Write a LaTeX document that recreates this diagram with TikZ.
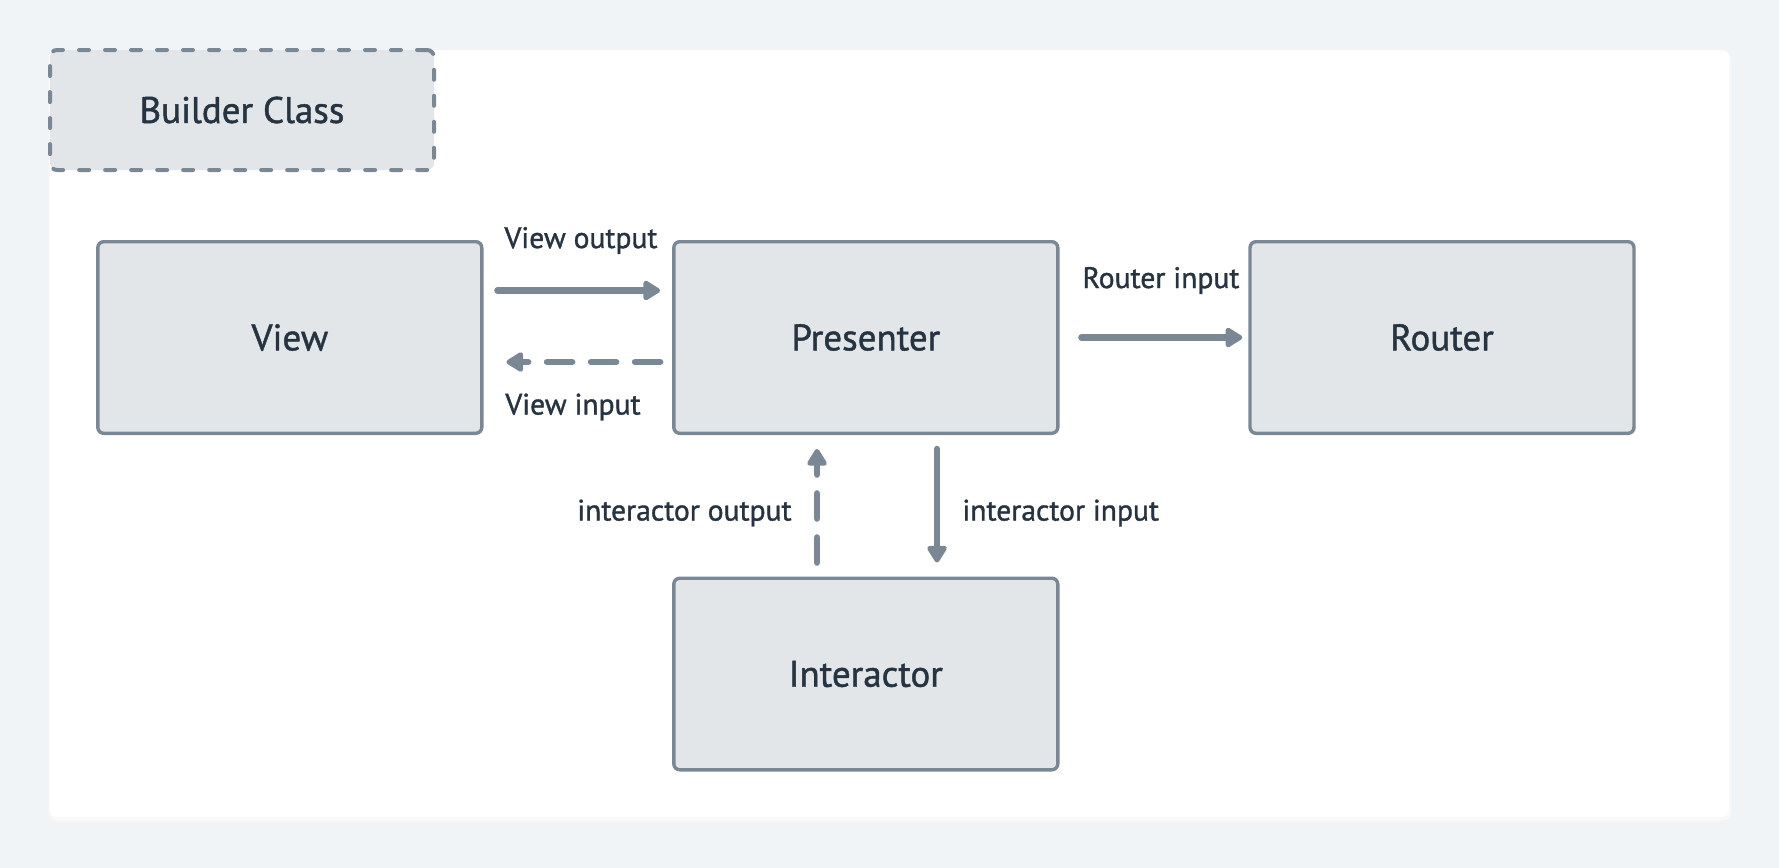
\documentclass[tikz,border=0pt]{standalone}
\usepackage{fontspec}
\setmainfont[FakeBold=1.2]{PT Sans}
\usetikzlibrary{arrows.meta}
\definecolor{bgc}{HTML}{F0F4F7}
\definecolor{boxfill}{HTML}{E2E6E9}
\definecolor{strokec}{HTML}{7A8896}
\definecolor{textc}{HTML}{263340}
\tikzset{
  boxnode/.style={draw=strokec, fill=boxfill, line width=1.7pt, rounded corners=3pt,
    minimum width=192pt, minimum height=95.8pt, text=textc, font=\fontsize{18.5pt}{22pt}\selectfont, inner sep=0pt},
  buildernode/.style={draw=strokec, fill=boxfill, line width=2pt, rounded corners=3.5pt,
    dash pattern=on 5pt off 8pt, line cap=round,
    minimum width=192pt, minimum height=60pt, text=textc, font=\fontsize{18.5pt}{22pt}\selectfont, inner sep=0pt},
  lbl/.style={text=textc, font=\fontsize{14.8pt}{17pt}\selectfont, inner sep=0pt},
  arr/.style={draw=strokec, line width=3.3pt, line cap=round, -{Triangle[length=9.5pt,width=11pt,round]}},
  darr/.style={arr, dash pattern=on 12.5pt off 9.5pt},
}
\begin{document}
\begin{tikzpicture}[x=0.5pt,y=-0.5pt]
\useasboundingbox (0,0) rectangle (1779,868);
\fill[bgc] (0,0) rectangle (1779,868);
% panel shadow and panel
\fill[black!4, rounded corners=4pt] (48,52) rectangle (1732,822);
\fill[black!2.5, rounded corners=4pt] (49,51) rectangle (1731,820);
\fill[white, rounded corners=3.5pt] (50,50) rectangle (1729,817);

\node[buildernode] (builder) at (242,110) {Builder Class};
\node[boxnode] (view) at (289.8,337.5) {View};
\node[boxnode] (presenter) at (865.8,337.5) {Presenter};
\node[boxnode] (router) at (1442,337.5) {Router};
\node[boxnode] (interactor) at (865.8,674) {Interactor};

% View output
\coordinate (vo1) at ([xshift=7pt,yshift=23.5pt]view.east);
\coordinate (vo2) at ([xshift=-6pt,yshift=23.5pt]presenter.west);
\draw[arr] (vo1) -- (vo2);
\node[lbl] (volbl) at (581,240.5) {View output};
% View input
\coordinate (vi1) at ([xshift=-6pt,yshift=-12.25pt]presenter.west);
\coordinate (vi2) at ([xshift=11.5pt,yshift=-12.25pt]view.east);
\draw[darr] (vi1) -- (vi2);
\node[lbl] (vilbl) at (573,407) {View input};
% Router input
\coordinate (ri1) at ([xshift=11pt]presenter.east);
\coordinate (ri2) at ([xshift=-3pt]router.west);
\draw[arr] (ri1) -- (ri2);
\node[lbl] (rilbl) at (1161,280.5) {Router input};
% interactor output
\coordinate (io1) at ([xshift=-24.4pt,yshift=7pt]interactor.north);
\coordinate (io2) at ([xshift=-24.4pt,yshift=-7pt]presenter.south);
\draw[darr] (io1) -- (io2);
\node[lbl, anchor=east] (iolbl) at (792,513) {interactor output};
% interactor input
\coordinate (ii1) at ([xshift=35.6pt,yshift=-7pt]presenter.south);
\coordinate (ii2) at ([xshift=35.6pt,yshift=7pt]interactor.north);
\draw[arr] (ii1) -- (ii2);
\node[lbl, anchor=west] (iilbl) at (962,513) {interactor input};
\end{tikzpicture}
\end{document}
